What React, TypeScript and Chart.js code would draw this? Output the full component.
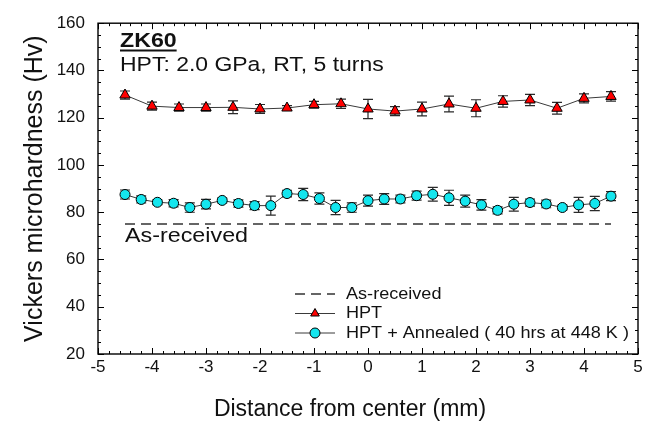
import { useEffect, useRef } from "react";
import { Chart, registerables } from "chart.js";
Chart.register(...registerables);

// ---- data ----
const hptX = [-4.5, -4.0, -3.5, -3.0, -2.5, -2.0, -1.5, -1.0, -0.5, 0.0, 0.5, 1.0, 1.5, 2.0, 2.5, 3.0, 3.5, 4.0, 4.5];
const hptY = [129.6, 124.9, 124.3, 124.3, 124.4, 123.7, 124.1, 125.5, 125.9, 123.7, 122.8, 123.7, 125.8, 124.0, 126.9, 127.5, 124.0, 128.2, 129.0];
const hptErr = [1.7, 1.7, 1.5, 1.5, 2.7, 1.9, 1.0, 1.4, 2.0, 4.1, 1.9, 2.9, 3.3, 3.6, 2.4, 2.4, 2.5, 1.9, 2.0];

const annX = [-4.5, -4.2, -3.9, -3.6, -3.3, -3.0, -2.7, -2.4, -2.1, -1.8, -1.5, -1.2, -0.9, -0.6, -0.3, 0.0, 0.3, 0.6, 0.9, 1.2, 1.5, 1.8, 2.1, 2.4, 2.7, 3.0, 3.3, 3.6, 3.9, 4.2, 4.5];
const annY = [87.5, 85.4, 84.2, 83.8, 82.0, 83.4, 85.0, 83.7, 82.8, 82.8, 87.9, 87.5, 85.8, 82.0, 82.0, 84.9, 85.6, 85.6, 87.0, 87.6, 86.1, 84.7, 83.1, 80.8, 83.4, 84.1, 83.5, 82.0, 83.1, 83.7, 86.8];
const annErr = [1.9, 1.5, 1.0, 1.5, 2.0, 2.0, 1.0, 1.5, 1.7, 4.0, 1.4, 2.6, 2.4, 3.0, 2.0, 2.3, 2.3, 1.6, 1.9, 2.9, 3.2, 2.5, 2.2, 1.5, 2.9, 1.5, 1.6, 1.0, 3.2, 3.0, 1.9];

const asRecX = [-4.5, 4.5];
const asRecY = [75, 75];

const seriesLabels = ["As-received", "HPT", "HPT + Annealed ( 40 hrs at 448 K )"];
const xTitle = "Distance from center (mm)";
const yTitle = "Vickers microhardness (Hv)";
const noteTitle = "ZK60";
const noteLine = "HPT: 2.0 GPa, RT, 5 turns";
const asRecNote = "As-received";

const FONT = "'Liberation Sans', Arial, Helvetica, sans-serif";
const TXT = "#111111";

function stretchText(ctx: any, text: string, x: number, y: number, sx: number) {
  ctx.save();
  ctx.translate(x, y);
  ctx.scale(sx, 1);
  ctx.fillText(text, 0, 0);
  const w = ctx.measureText(text).width * sx;
  ctx.restore();
  return w;
}

export default function App() {
  const ref = useRef<HTMLCanvasElement>(null);

  useEffect(() => {
    if (!ref.current) return;

    const errorBars = {
      id: "errorBars",
      beforeDatasetsDraw(chart: any) {
        const { ctx } = chart;
        const xs = chart.scales.x;
        const ys = chart.scales.y;
        const sets: [number[], number[], number[]][] = [
          [hptX, hptY, hptErr],
          [annX, annY, annErr],
        ];
        ctx.save();
        ctx.strokeStyle = "#2a2a2a";
        ctx.lineWidth = 1.2;
        for (const [xa, ya, ea] of sets) {
          for (let i = 0; i < xa.length; i++) {
            const px = xs.getPixelForValue(xa[i]);
            const top = ys.getPixelForValue(ya[i] + ea[i]);
            const bot = ys.getPixelForValue(ya[i] - ea[i]);
            ctx.beginPath();
            ctx.moveTo(px, top);
            ctx.lineTo(px, bot);
            ctx.moveTo(px - 5, top);
            ctx.lineTo(px + 5, top);
            ctx.moveTo(px - 5, bot);
            ctx.lineTo(px + 5, bot);
            ctx.stroke();
          }
        }
        ctx.restore();
      },
    };

    const frame = {
      id: "frame",
      afterDatasetsDraw(chart: any) {
        const { ctx, chartArea: a } = chart;
        const xs = chart.scales.x;
        const ys = chart.scales.y;
        ctx.save();
        ctx.strokeStyle = "#000";
        ctx.lineWidth = 1.4;
        ctx.strokeRect(a.left, a.top, a.right - a.left, a.bottom - a.top);
        ctx.lineWidth = 1;
        ctx.beginPath();
        for (let k = -25; k <= 25; k++) {
          const v = k / 5;
          const px = Math.round(xs.getPixelForValue(v)) + 0.5;
          const len = k % 5 === 0 ? 6 : 3;
          ctx.moveTo(px, a.bottom);
          ctx.lineTo(px, a.bottom - len);
          ctx.moveTo(px, a.top);
          ctx.lineTo(px, a.top + len);
        }
        for (let v = 20; v <= 160; v += 5) {
          const py = Math.round(ys.getPixelForValue(v)) + 0.5;
          const len = v % 20 === 0 ? 6 : 3;
          ctx.moveTo(a.left, py);
          ctx.lineTo(a.left + len, py);
          ctx.moveTo(a.right, py);
          ctx.lineTo(a.right - len, py);
        }
        ctx.stroke();
        ctx.restore();
      },
    };

    const notes = {
      id: "notes",
      afterDraw(chart: any) {
        const { ctx } = chart;
        ctx.save();
        ctx.fillStyle = TXT;
        ctx.textAlign = "left";
        ctx.textBaseline = "alphabetic";
        ctx.font = `bold 20.5px ${FONT}`;
        const w = stretchText(ctx, noteTitle, 120, 47, 1.13);
        ctx.fillRect(120, 49.5, w, 2);
        ctx.font = `20.5px ${FONT}`;
        stretchText(ctx, noteLine, 120, 71, 1.12);
        ctx.font = `20.5px ${FONT}`;
        stretchText(ctx, asRecNote, 125, 242, 1.137);

        // x-axis title
        ctx.font = `23px ${FONT}`;
        ctx.textAlign = "center";
        ctx.textBaseline = "middle";
        ctx.fillText(xTitle, 350, 410);

        // legend
        const ds = chart.data.datasets;
        const rows = [294, 313.5, 333];
        const x0 = 295, x1 = 335, xm = 315, xt = 346;
        ctx.textAlign = "left";
        ctx.font = `16.5px ${FONT}`;
        ctx.textBaseline = "middle";
        for (let i = 0; i < 3; i++) {
          const d = ds[i];
          const y = rows[i];
          ctx.save();
          ctx.strokeStyle = d.borderColor;
          ctx.lineWidth = d.borderWidth;
          ctx.setLineDash(d.borderDash || []);
          ctx.beginPath();
          ctx.moveTo(x0, y);
          ctx.lineTo(x1, y);
          ctx.stroke();
          ctx.restore();
          if (d.pointRadius > 0) {
            ctx.save();
            ctx.fillStyle = d.pointBackgroundColor;
            ctx.strokeStyle = d.pointBorderColor;
            ctx.lineWidth = d.pointBorderWidth;
            const r = i === 1 ? 5 : d.pointRadius;
            ctx.beginPath();
            if (d.pointStyle === "triangle") {
              ctx.moveTo(xm, y - r);
              ctx.lineTo(xm + r * 0.866, y + r * 0.5);
              ctx.lineTo(xm - r * 0.866, y + r * 0.5);
              ctx.closePath();
            } else {
              ctx.arc(xm, y, r, 0, Math.PI * 2);
            }
            ctx.fill();
            ctx.stroke();
            ctx.restore();
          }
          ctx.fillStyle = TXT;
          stretchText(ctx, d.label, xt, y, 1.096);
        }
        ctx.restore();
      },
    };

    const chart = new Chart(ref.current, {
      type: "scatter",
      data: {
        datasets: [
          {
            label: seriesLabels[0],
            data: asRecX.map((x, i) => ({ x, y: asRecY[i] })),
            showLine: true,
            borderColor: "#333333",
            borderWidth: 1.5,
            borderDash: [10, 6],
            pointRadius: 0,
          },
          {
            label: seriesLabels[1],
            data: hptX.map((x, i) => ({ x, y: hptY[i] })),
            showLine: true,
            borderColor: "#3a3a3a",
            borderWidth: 1,
            pointStyle: "triangle",
            pointRadius: 6,
            pointBackgroundColor: "#ff0000",
            pointBorderColor: "#000000",
            pointBorderWidth: 1,
          },
          {
            label: seriesLabels[2],
            data: annX.map((x, i) => ({ x, y: annY[i] })),
            showLine: true,
            borderColor: "#3a3a3a",
            borderWidth: 1,
            pointStyle: "circle",
            pointRadius: 5,
            pointBackgroundColor: "#14e6ee",
            pointBorderColor: "#000000",
            pointBorderWidth: 1,
          },
        ],
      },
      options: {
        responsive: true,
        maintainAspectRatio: false,
        animation: false,
        layout: { padding: { top: 16, right: 21, left: 0, bottom: 0 } },
        plugins: {
          legend: { display: false },
          tooltip: { enabled: false },
        },
        scales: {
          x: {
            type: "linear",
            min: -5,
            max: 5,
            ticks: {
              stepSize: 1,
              color: TXT,
              font: { family: FONT, size: 17 },
              padding: 3,
              maxRotation: 0,
            },
            grid: { display: false, drawTicks: false },
            border: { display: false },
            title: { display: false, text: xTitle },
            afterFit(scale: any) {
              scale.height = 76;
            },
          },
          y: {
            type: "linear",
            min: 20,
            max: 160,
            ticks: {
              stepSize: 20,
              color: TXT,
              font: { family: FONT, size: 17 },
              padding: 13,
            },
            grid: { display: false, drawTicks: false },
            border: { display: false },
            title: {
              display: true,
              text: yTitle,
              color: TXT,
              font: { family: FONT, size: 25 },
              padding: { top: 20, bottom: 0 },
            },
            afterFit(scale: any) {
              scale.width = 98;
            },
          },
        },
      },
      plugins: [errorBars, frame, notes],
    } as any);

    return () => chart.destroy();
  }, []);

  return (
    <div style={{ position: "fixed", left: 0, top: 0, width: 659, height: 430, background: "#fff" }}>
      <canvas ref={ref} />
    </div>
  );
}
